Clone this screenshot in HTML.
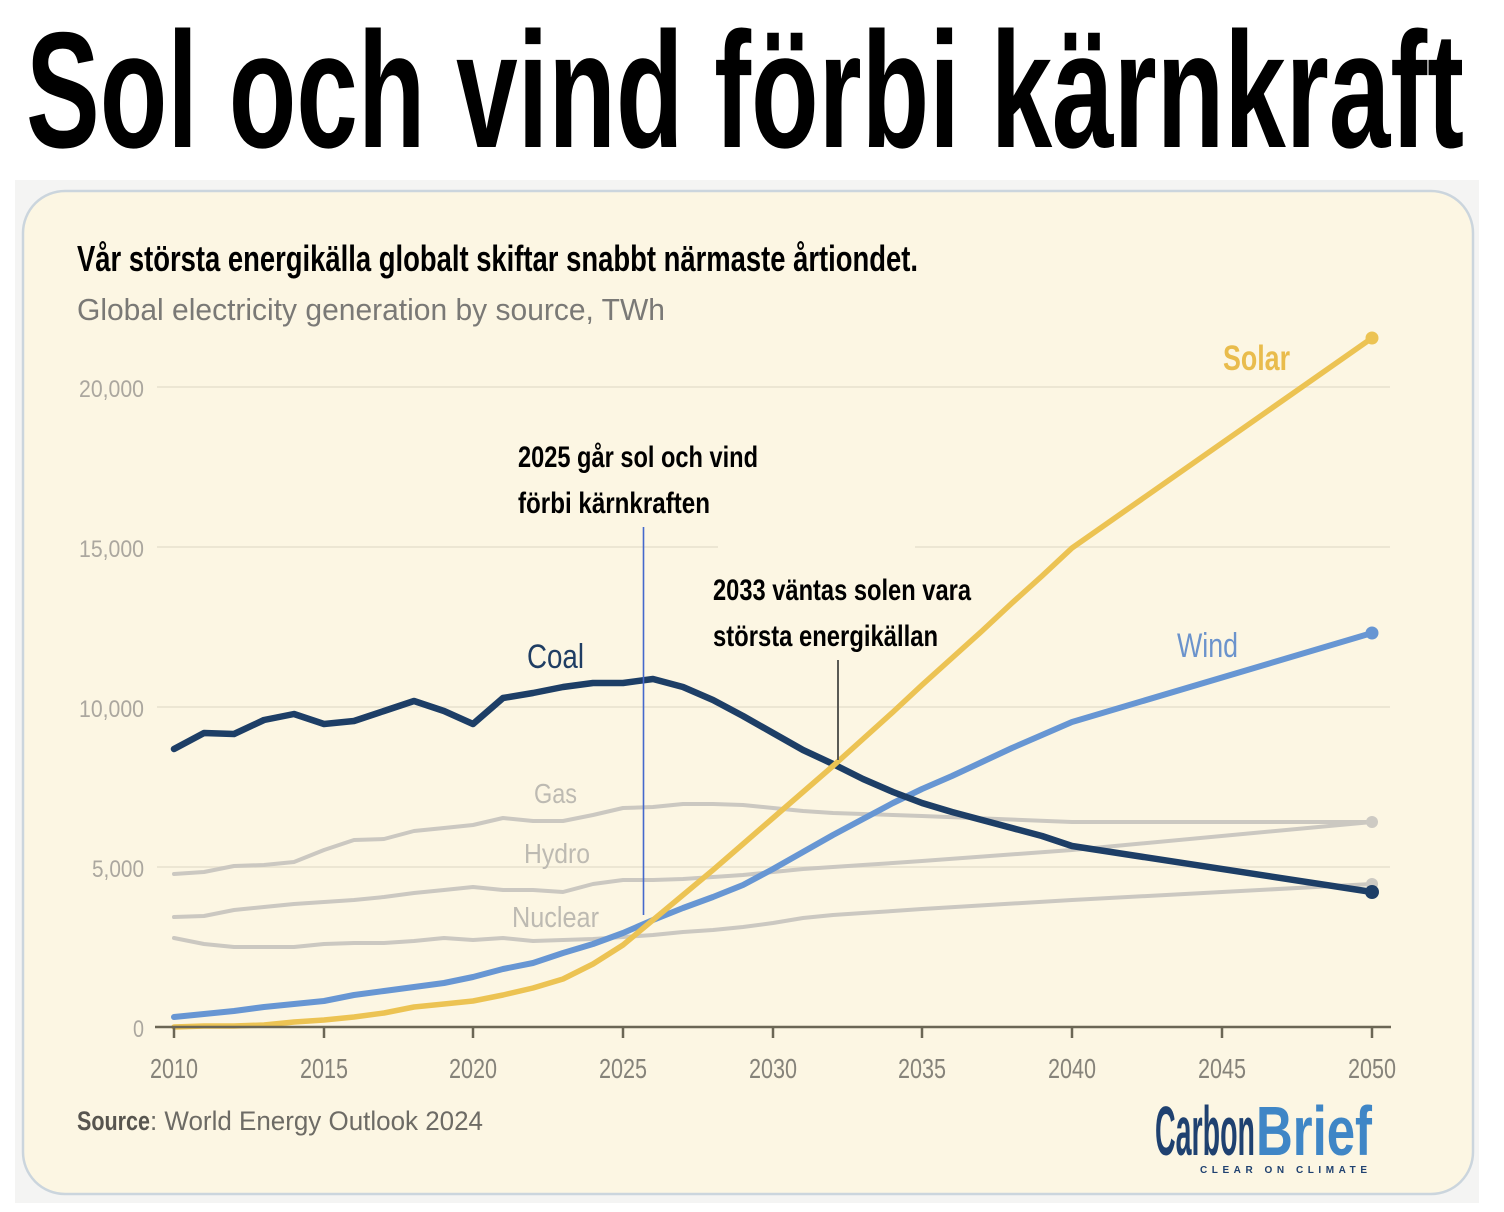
<!DOCTYPE html>
<html>
<head>
<meta charset="utf-8">
<style>
  html, body { margin: 0; padding: 0; background: #ffffff; }
  body { width: 1504px; height: 1212px; overflow: hidden; }
  svg { display: block; }
  text { font-family: "Liberation Sans", "DejaVu Sans", sans-serif; }
</style>
</head>
<body>
<svg width="1504" height="1212" viewBox="0 0 1504 1212" xmlns="http://www.w3.org/2000/svg">
  <rect x="0" y="0" width="1504" height="1212" fill="#ffffff"/>

  <!-- Main title -->
  <text x="26" y="147" font-size="165" font-weight="bold" fill="#000" textLength="1438" lengthAdjust="spacingAndGlyphs">Sol och vind förbi kärnkraft</text>

  <!-- outer grey panel -->
  <rect x="15" y="180" width="1464" height="1023" fill="#f4f4f3"/>
  <!-- card -->
  <rect x="23" y="191" width="1450" height="1003" rx="42" ry="42" fill="#fcf6e3" stroke="#cbd5dd" stroke-width="2.5"/>

  <!-- subtitle -->
  <text x="77" y="271" font-size="36" font-weight="bold" fill="#000" textLength="841" lengthAdjust="spacingAndGlyphs">Vår största energikälla globalt skiftar snabbt närmaste årtiondet.</text>
  <text x="77" y="320" font-size="31" fill="#7a7976" textLength="588" lengthAdjust="spacingAndGlyphs">Global electricity generation by source, TWh</text>

  <!-- gridlines -->
  <g stroke="#ece6d3" stroke-width="2">
    <line x1="157" y1="387" x2="1390" y2="387"/>
    <line x1="157" y1="547" x2="718" y2="547"/>
    <line x1="915" y1="547" x2="1390" y2="547"/>
    <line x1="157" y1="707" x2="1390" y2="707"/>
    <line x1="157" y1="867" x2="1390" y2="867"/>
  </g>

  <!-- y labels -->
  <g font-size="24" fill="#aba79f">
    <text x="79" y="397" textLength="65" lengthAdjust="spacingAndGlyphs">20,000</text>
    <text x="79" y="557" textLength="65" lengthAdjust="spacingAndGlyphs">15,000</text>
    <text x="79" y="717" textLength="65" lengthAdjust="spacingAndGlyphs">10,000</text>
    <text x="92" y="877" textLength="52" lengthAdjust="spacingAndGlyphs">5,000</text>
    <text x="133" y="1037" textLength="11" lengthAdjust="spacingAndGlyphs">0</text>
  </g>

  <!-- grey series -->
  <g fill="none" stroke="#cbc8c1" stroke-width="4" stroke-linejoin="round" stroke-linecap="round">
    <polyline points="174,874 204,872 234,866 264,865 294,862 324,850 354,840 384,839 414,831 444,828 473,825 503,818 533,821 563,821 593,815 623,808 653,807 683,804 713,804 743,805 773,808 803,811 833,813 863,814 893,815 922,816 1072,822 1372,822"/>
    <polyline points="174,917 204,916 234,910 264,907 294,904 324,902 354,900 384,897 414,893 444,890 473,887 503,890 533,890 563,892 593,884 623,880 653,880 683,879 713,877 743,875 773,872 803,869 833,867 863,865 893,863 922,861 1072,850 1372,822"/>
    <polyline points="174,938 204,944 234,947 264,947 294,947 324,944 354,943 384,943 414,941 444,938 473,940 503,938 533,941 563,940 593,939 623,937 653,935 683,932 713,930 743,927 773,923 803,918 833,915 863,913 893,911 922,909 1072,900 1372,884"/>
  </g>
  <circle cx="1372" cy="822" r="6" fill="#cdcac3"/>
  <circle cx="1372" cy="884" r="6" fill="#cdcac3"/>

  <!-- wind -->
  <polyline fill="none" stroke="#6796d3" stroke-width="6" stroke-linejoin="round" stroke-linecap="round"
    points="174,1017 204,1014 234,1011 264,1007 294,1004 324,1001 354,995 384,991 414,987 444,983 473,977 503,969 533,963 563,953 593,944 623,933 653,920 683,908 713,897 743,885 773,869 803,852 833,835 863,819 893,803 922,789 952,776 982,762 1012,748 1042,735 1072,722 1372,633"/>
  <circle cx="1372" cy="633" r="6.5" fill="#6796d3"/>

  <!-- coal -->
  <polyline fill="none" stroke="#1d3e66" stroke-width="6.5" stroke-linejoin="round" stroke-linecap="round"
    points="174,749 204,733 234,734 264,720 294,714 324,724 354,721 384,711 414,701 444,711 473,724 503,698 533,693 563,687 593,683 623,683 653,679 683,687 713,700 743,716 773,733 803,750 833,764 863,779 893,792 922,803 952,812 982,820 1012,828 1042,836 1072,846 1372,892"/>
  <circle cx="1372" cy="892" r="7" fill="#1d3e66"/>

  <!-- solar -->
  <polyline fill="none" stroke="#ecc353" stroke-width="5.5" stroke-linejoin="round" stroke-linecap="round"
    points="174,1027 204,1026 234,1026 264,1025 294,1022 324,1020 354,1017 384,1013 414,1007 444,1004 473,1001 503,995 533,988 563,979 593,964 623,945 653,920 683,895 713,870 743,844 773,818 803,792 833,766 863,739 893,712 922,685 952,658 982,631 1012,603 1042,576 1072,548 1372,338"/>
  <circle cx="1372" cy="338" r="6.5" fill="#ecc353"/>

  <!-- x axis -->
  <g stroke="#6b6655" stroke-width="2.5">
    <line x1="155" y1="1027" x2="1391" y2="1027"/>
    <line x1="174" y1="1027" x2="174" y2="1038"/>
    <line x1="324" y1="1027" x2="324" y2="1038"/>
    <line x1="473" y1="1027" x2="473" y2="1038"/>
    <line x1="623" y1="1027" x2="623" y2="1038"/>
    <line x1="773" y1="1027" x2="773" y2="1038"/>
    <line x1="922" y1="1027" x2="922" y2="1038"/>
    <line x1="1072" y1="1027" x2="1072" y2="1038"/>
    <line x1="1222" y1="1027" x2="1222" y2="1038"/>
    <line x1="1372" y1="1027" x2="1372" y2="1038"/>
  </g>

  <!-- x labels -->
  <g font-size="28" fill="#86837a">
    <text x="150" y="1078" textLength="48" lengthAdjust="spacingAndGlyphs">2010</text>
    <text x="300" y="1078" textLength="48" lengthAdjust="spacingAndGlyphs">2015</text>
    <text x="449" y="1078" textLength="48" lengthAdjust="spacingAndGlyphs">2020</text>
    <text x="599" y="1078" textLength="48" lengthAdjust="spacingAndGlyphs">2025</text>
    <text x="749" y="1078" textLength="48" lengthAdjust="spacingAndGlyphs">2030</text>
    <text x="898" y="1078" textLength="48" lengthAdjust="spacingAndGlyphs">2035</text>
    <text x="1048" y="1078" textLength="48" lengthAdjust="spacingAndGlyphs">2040</text>
    <text x="1198" y="1078" textLength="48" lengthAdjust="spacingAndGlyphs">2045</text>
    <text x="1348" y="1078" textLength="48" lengthAdjust="spacingAndGlyphs">2050</text>
  </g>

  <!-- series labels -->
  <text x="527" y="668" font-size="34" fill="#1f3d63" textLength="57" lengthAdjust="spacingAndGlyphs">Coal</text>
  <text x="534" y="803" font-size="28" fill="#bdbab2" textLength="43" lengthAdjust="spacingAndGlyphs">Gas</text>
  <text x="524" y="863" font-size="28" fill="#bdbab2" textLength="66" lengthAdjust="spacingAndGlyphs">Hydro</text>
  <text x="512" y="927" font-size="29" fill="#bdbab2" textLength="87" lengthAdjust="spacingAndGlyphs">Nuclear</text>
  <text x="1223" y="370" font-size="35" font-weight="bold" fill="#e9bc4c" textLength="67" lengthAdjust="spacingAndGlyphs">Solar</text>
  <text x="1177" y="657" font-size="34" fill="#6b93cc" textLength="61" lengthAdjust="spacingAndGlyphs">Wind</text>

  <!-- annotations -->
  <line x1="643.5" y1="527" x2="643.5" y2="915" stroke="#4468cc" stroke-width="1.6"/>
  <text x="518" y="467" font-size="30" font-weight="bold" fill="#000" textLength="240" lengthAdjust="spacingAndGlyphs">2025 går sol och vind</text>
  <text x="518" y="513" font-size="30" font-weight="bold" fill="#000" textLength="192" lengthAdjust="spacingAndGlyphs">förbi kärnkraften</text>

  <line x1="838" y1="660" x2="838" y2="760" stroke="#5a5a55" stroke-width="2"/>
  <text x="713" y="600" font-size="30" font-weight="bold" fill="#000" textLength="258" lengthAdjust="spacingAndGlyphs">2033 väntas solen vara</text>
  <text x="713" y="646" font-size="30" font-weight="bold" fill="#000" textLength="225" lengthAdjust="spacingAndGlyphs">största energikällan</text>

  <!-- source -->
  <text x="77" y="1130" font-size="27" font-weight="bold" fill="#57554f" textLength="73" lengthAdjust="spacingAndGlyphs">Source</text>
  <text x="150" y="1130" font-size="27" fill="#6d6b65" textLength="333" lengthAdjust="spacingAndGlyphs">: World Energy Outlook 2024</text>

  <!-- logo -->
  <text x="1155" y="1155" font-size="70" font-weight="bold" fill="#1f4170" textLength="100" lengthAdjust="spacingAndGlyphs">Carbon</text>
  <text x="1256" y="1155" font-size="70" font-weight="bold" fill="#3f86c6" textLength="116" lengthAdjust="spacingAndGlyphs">Brief</text>
  <text x="1200" y="1173" font-size="10" font-weight="bold" fill="#1f4170" textLength="167" lengthAdjust="spacing">CLEAR ON CLIMATE</text>
</svg>
</body>
</html>
